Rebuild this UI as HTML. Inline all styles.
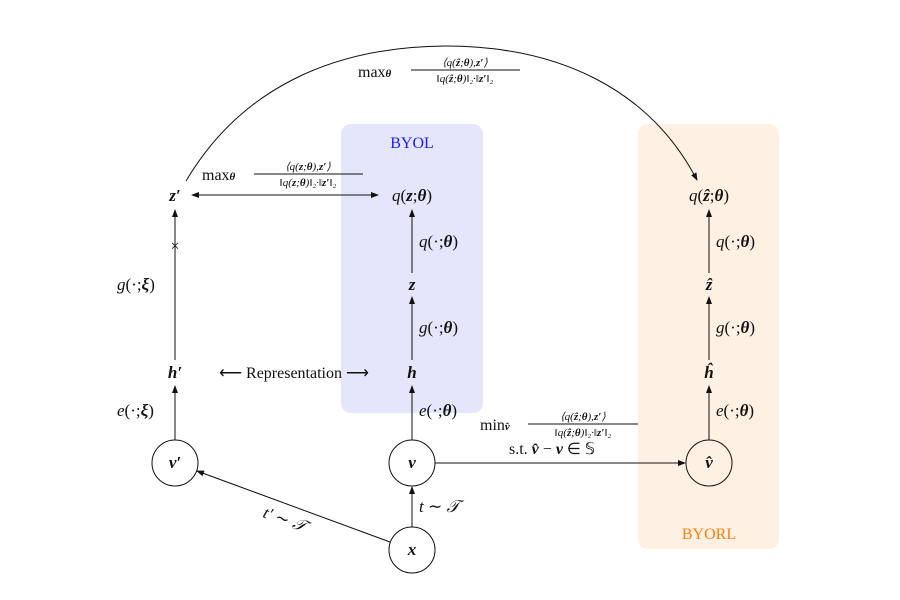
<!DOCTYPE html>
<html><head><style>body{margin:0;background:#fff}svg{display:block}text{font-family:"Liberation Serif",serif;fill:#111}.i{font-style:italic;font-weight:bold}.m{font-style:italic}</style></head><body>
<svg width="900" height="600" viewBox="0 0 900 600" xmlns="http://www.w3.org/2000/svg">
<defs><marker id="a" markerWidth="8" markerHeight="8" refX="7" refY="4" orient="auto" markerUnits="userSpaceOnUse"><path d="M0,1 L8,4 L0,7 Z" fill="#111"/></marker>
<marker id="b" markerWidth="8" markerHeight="8" refX="1" refY="4" orient="auto" markerUnits="userSpaceOnUse"><path d="M8,1 L0,4 L8,7 Z" fill="#111"/></marker></defs>
<rect x="341" y="124" width="142" height="289" rx="10" fill="#e5e5fb"/>
<rect x="638" y="124" width="141" height="425" rx="10" fill="#fef0e3"/>
<text x="412" y="148" font-size="16" text-anchor="middle" style="fill:#1a1aff">BYOL</text>
<text x="709" y="539" font-size="16" text-anchor="middle" style="fill:#ff7f0e">BYORL</text>
<g stroke="#111" stroke-width="1" fill="none">
<path d="M186,181 C240,90 330,47 445,46 C560,46 650,90 697,180" marker-end="url(#a)"/>
<line x1="192" y1="195" x2="378" y2="195" marker-start="url(#b)" marker-end="url(#a)"/>
<line x1="175" y1="360" x2="175" y2="210" marker-end="url(#a)"/>
<line x1="175" y1="440" x2="175" y2="386" marker-end="url(#a)"/>
<line x1="412" y1="273" x2="412" y2="210" marker-end="url(#a)"/>
<line x1="412" y1="360" x2="412" y2="297" marker-end="url(#a)"/>
<line x1="412" y1="440" x2="412" y2="386" marker-end="url(#a)"/>
<line x1="412" y1="527" x2="412" y2="487" marker-end="url(#a)"/>
<line x1="709" y1="273" x2="709" y2="210" marker-end="url(#a)"/>
<line x1="709" y1="360" x2="709" y2="297" marker-end="url(#a)"/>
<line x1="709" y1="440" x2="709" y2="386" marker-end="url(#a)"/>
<line x1="435" y1="463" x2="685" y2="463" marker-end="url(#a)"/>
<line x1="390" y1="542" x2="197" y2="471" marker-end="url(#a)"/>
<circle cx="175" cy="463" r="23"/><circle cx="412" cy="463" r="23"/><circle cx="412" cy="550" r="23"/><circle cx="709" cy="463" r="23"/>
</g>
<text x="175" y="251" font-size="16" text-anchor="middle">×</text>
<g font-size="17" text-anchor="middle">
<text x="175" y="201" class="i">z′</text>
<text x="412" y="201"><tspan class="m">q</tspan>(<tspan class="i">z</tspan>;<tspan class="i">θ</tspan>)</text>
<text x="412" y="290" class="i">z</text>
<text x="412" y="378" class="i">h</text>
<text x="175" y="378" class="i">h′</text>
<text x="175" y="468" class="i">v′</text>
<text x="412" y="468" class="i">v</text>
<text x="412" y="555" class="i">x</text>
<text x="709" y="468" class="i">v̂</text>
<text x="709" y="201"><tspan class="m">q</tspan>(<tspan class="i">ẑ</tspan>;<tspan class="i">θ</tspan>)</text>
<text x="709" y="290" class="i">ẑ</text>
<text x="709" y="378" class="i">ĥ</text>
<text x="294" y="378" font-size="16">⟵ Representation ⟶</text>
</g>
<g font-size="17">
<text x="117" y="290"><tspan class="m">g</tspan>(·;<tspan class="i">ξ</tspan>)</text>
<text x="117" y="416"><tspan class="m">e</tspan>(·;<tspan class="i">ξ</tspan>)</text>
<text x="419" y="247"><tspan class="m">q</tspan>(·;<tspan class="i">θ</tspan>)</text>
<text x="419" y="333"><tspan class="m">g</tspan>(·;<tspan class="i">θ</tspan>)</text>
<text x="419" y="416"><tspan class="m">e</tspan>(·;<tspan class="i">θ</tspan>)</text>
<text x="716" y="247"><tspan class="m">q</tspan>(·;<tspan class="i">θ</tspan>)</text>
<text x="716" y="333"><tspan class="m">g</tspan>(·;<tspan class="i">θ</tspan>)</text>
<text x="716" y="416"><tspan class="m">e</tspan>(·;<tspan class="i">θ</tspan>)</text>
<text x="419" y="512"><tspan class="m">t</tspan> ∼ <tspan class="m">𝒯</tspan></text>
<text x="262" y="517" transform="rotate(20 262 517)"><tspan class="m">t′</tspan> ∼ <tspan class="m">𝒯</tspan></text>
<text x="509" y="454" font-size="16">s.t. <tspan class="i">v̂</tspan> − <tspan class="i">v</tspan> ∈ 𝕊</text>
</g>
<g class="m">
<text x="358" y="77" font-size="16" style="font-style:normal">max<tspan font-size="11" class="i">θ</tspan></text>
<text x="465" y="66" font-size="11" text-anchor="middle">⟨q(<tspan class="i">ẑ</tspan>;<tspan class="i">θ</tspan>),<tspan class="i">z′</tspan>⟩</text>
<line x1="411" y1="70" x2="520" y2="70" stroke="#111"/>
<text x="465" y="82" font-size="11" text-anchor="middle">‖q(<tspan class="i">ẑ</tspan>;<tspan class="i">θ</tspan>)‖₂·‖<tspan class="i">z′</tspan>‖₂</text>
<text x="202" y="180" font-size="16" style="font-style:normal">max<tspan font-size="11" class="i">θ</tspan></text>
<text x="308" y="170" font-size="11" text-anchor="middle">⟨q(<tspan class="i">z</tspan>;<tspan class="i">θ</tspan>),<tspan class="i">z′</tspan>⟩</text>
<line x1="254" y1="174" x2="363" y2="174" stroke="#111"/>
<text x="308" y="186" font-size="11" text-anchor="middle">‖q(<tspan class="i">z</tspan>;<tspan class="i">θ</tspan>)‖₂·‖<tspan class="i">z′</tspan>‖₂</text>
<text x="480" y="430" font-size="16" style="font-style:normal">min<tspan font-size="11" class="i">v̂</tspan></text>
<text x="583" y="420" font-size="11" text-anchor="middle">⟨q(<tspan class="i">ẑ</tspan>;<tspan class="i">θ</tspan>),<tspan class="i">z′</tspan>⟩</text>
<line x1="528" y1="424" x2="638" y2="424" stroke="#111"/>
<text x="583" y="436" font-size="11" text-anchor="middle">‖q(<tspan class="i">ẑ</tspan>;<tspan class="i">θ</tspan>)‖₂·‖<tspan class="i">z′</tspan>‖₂</text>
</g>
</svg>
</body></html>
